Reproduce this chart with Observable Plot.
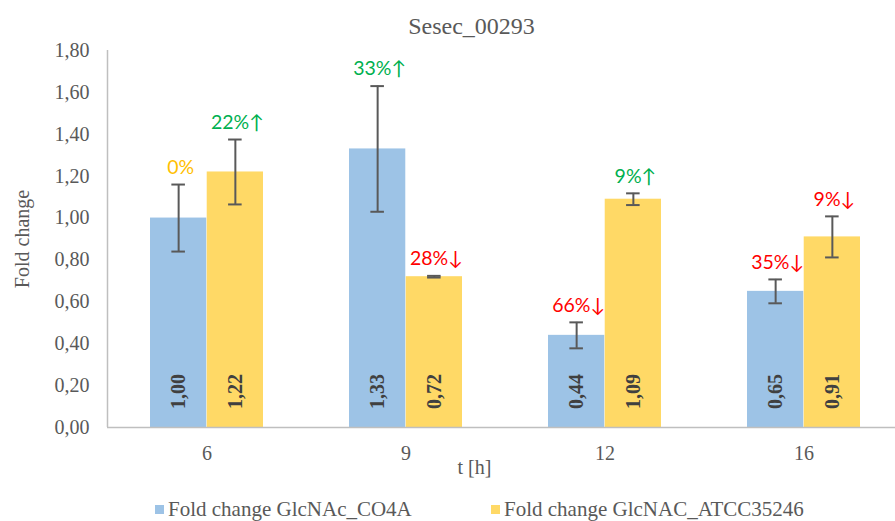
<!DOCTYPE html>
<html>
<head>
<meta charset="utf-8">
<script src="https://cdn.jsdelivr.net/npm/d3@7"></script>
<script src="https://cdn.jsdelivr.net/npm/@observablehq/plot@0.6"></script>
<style>
  body { margin: 0; background: #fff; }
  #wrap { position: relative; width: 895px; height: 521px; overflow: hidden; background: #fff; }
  #legend { position: absolute; left: 0; top: 497px; width: 895px; height: 24px;
            font-family: "Liberation Serif", "Times New Roman", serif; font-size: 21px; color: #595959; }
  .item { position: absolute; top: 0; display: flex; align-items: center; white-space: nowrap; }
  .sw { width: 9px; height: 9px; margin-right: 4px; display: inline-block; }
</style>
</head>
<body>
<div id="wrap"><div id="legend"></div></div>
<script>
// ---- data ----
const chartTitle = "Sesec_00293";
const times = ["6", "9", "12", "16"];
const seriesNames = ["Fold change GlcNAc_CO4A", "Fold change GlcNAC_ATCC35246"];
const seriesColors = ["#9DC3E6", "#FFD966"];
const co4aValues = [1.00, 1.33, 0.44, 0.65];
const atccValues = [1.22, 0.72, 1.09, 0.91];
const co4aErrors = [0.16, 0.30, 0.062, 0.057];
const atccErrors = [0.155, 0.004, 0.028, 0.098];
const co4aLabels = ["0%", "33%↑", "66%↓", "35%↓"];
const atccLabels = ["22%↑", "28%↓", "9%↑", "9%↓"];
const yTicks = [0, 0.2, 0.4, 0.6, 0.8, 1.0, 1.2, 1.4, 1.6, 1.8];
const xLabel = "t [h]";
const yLabel = "Fold change";

// ---- layout ----
const W = 895, H = 521, mL = 107, mR = -8, mT = 50, mB = 94;
const padIn = 0.43, padOut = 0.215;
const step = (W - mL - mR) / (times.length - padIn + 2 * padOut);
const bw = step * (1 - padIn);
const half = bw / 2, q = bw / 4;
const capW = 14;
const serif = "'Liberation Serif', 'Times New Roman', serif";
const sans = "Lato, 'Noto Sans', 'DejaVu Sans', sans-serif";
const fmt = v => v.toFixed(2).replace(".", ",");
const labelColor = s => s.includes("↑") ? "#00B050" : s.includes("↓") ? "#FF0000" : "#FFC000";

const rowsA = times.map((t, i) => ({time: t, value: co4aValues[i], err: co4aErrors[i], label: co4aLabels[i]}));
const rowsB = times.map((t, i) => ({time: t, value: atccValues[i], err: atccErrors[i], label: atccLabels[i]}));

function seriesMarks(rows, color, side) {
  const dx = side * q;
  return [
    Plot.barY(rows, {x: "time", y: "value", fill: color,
      insetLeft: side > 0 ? half : 0, insetRight: side < 0 ? half : 0}),
    Plot.ruleX(rows, {x: "time", y1: d => d.value - d.err, y2: d => d.value + d.err,
      dx, stroke: "#595959", strokeWidth: 2}),
    Plot.tickY(rows, {x: "time", y: d => d.value + d.err, dx, stroke: "#595959", strokeWidth: 2,
      insetLeft: (bw - capW) / 2, insetRight: (bw - capW) / 2}),
    Plot.tickY(rows, {x: "time", y: d => d.value - d.err, dx, stroke: "#595959", strokeWidth: 2,
      insetLeft: (bw - capW) / 2, insetRight: (bw - capW) / 2}),
    Plot.text(rows, {x: "time", y: d => d.value + d.err, dx: dx + 2, dy: -17, text: "label",
      fill: d => labelColor(d.label), fontFamily: sans, fontSize: 19.5}),
    Plot.text(rows, {x: "time", y: 0, dx, dy: -36, rotate: -90, text: d => fmt(d.value),
      fill: "#404040", fontFamily: serif, fontSize: 20, fontWeight: "bold"})
  ];
}

const chart = Plot.plot({
  width: W, height: H,
  marginLeft: mL, marginRight: mR, marginTop: mT, marginBottom: mB,
  style: {fontFamily: serif, fontSize: "20px", color: "#595959", background: "transparent", overflow: "visible"},
  x: {domain: times, paddingInner: padIn, paddingOuter: padOut, label: null,
      tickSize: 0, tickPadding: 18},
  y: {domain: [0, 1.8], ticks: yTicks, tickFormat: fmt, tickSize: 0, tickPadding: 18, label: null},
  marks: [
    ...seriesMarks(rowsA, seriesColors[0], -1),
    ...seriesMarks(rowsB, seriesColors[1], 1),
    Plot.ruleY([0], {stroke: "#BFBFBF", strokeWidth: 1.5}),
    Plot.ruleX([times[0]], {dx: -step / 2, stroke: "#BFBFBF", strokeWidth: 1.5}),
    Plot.text([yLabel], {frameAnchor: "left", textAnchor: "middle", lineAnchor: "middle",
      dx: -85, rotate: -90, fill: "#595959", fontFamily: serif, fontSize: 20}),
    Plot.text([xLabel], {frameAnchor: "bottom", lineAnchor: "middle", dx: -31, dy: 40,
      fill: "#595959", fontFamily: serif, fontSize: 20}),
    Plot.text([chartTitle], {frameAnchor: "top", lineAnchor: "middle", dx: -34, dy: -24,
      fill: "#595959", fontFamily: serif, fontSize: 24})
  ]
});
document.getElementById("wrap").prepend(chart);
chart.style.position = "absolute";
chart.style.left = "0";
chart.style.top = "0";

// legend
const legend = document.getElementById("legend");
const legendX = [155, 491];
seriesNames.forEach((name, i) => {
  const it = document.createElement("div");
  it.className = "item";
  it.style.left = legendX[i] + "px";
  const sw = document.createElement("span");
  sw.className = "sw";
  sw.style.background = seriesColors[i];
  it.appendChild(sw);
  it.appendChild(document.createTextNode(name));
  legend.appendChild(it);
});
</script>
</body>
</html>
